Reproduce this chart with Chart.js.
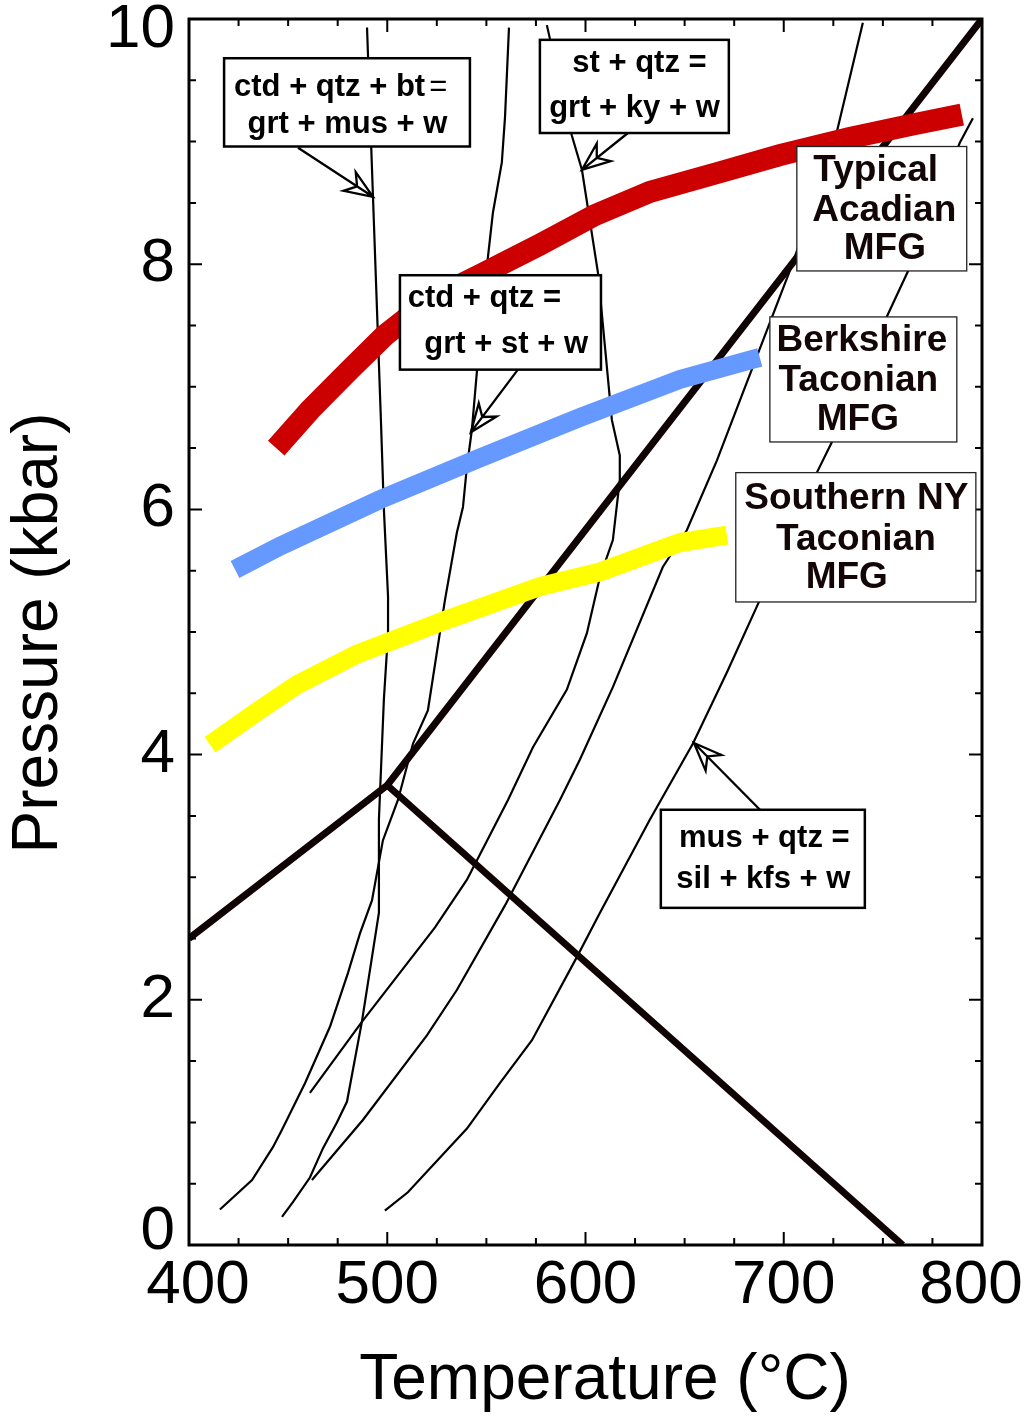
<!DOCTYPE html>
<html lang="en">
<head>
<meta charset="utf-8">
<title>Pressure–temperature diagram</title>
<script src="https://cdn.jsdelivr.net/npm/chart.js@4.4.1/dist/chart.umd.min.js"></script>
<style>
  html, body { margin: 0; padding: 0; background: #fff; }
  #frame { width: 1034px; height: 1418px; position: relative; }
</style>
</head>
<body>
<div id="frame"><canvas id="pt"></canvas></div>
<script>
// ---- axis ticks ----
const temperatureTicks = [400, 500, 600, 700, 800];   // °C
const pressureTicks = [0, 2, 4, 6, 8, 10];            // kbar

// ---- curves, each point is [T (°C), P (kbar)] ----
// Al2SiO5: And–Ky up to the triple point, then Ky–Sil
const kyaniteEdge = [[400, 2.5], [500, 3.75], [800, 10]];
// And–Sil from the triple point
const andSil = [[500, 3.75], [760, 0]];

// ctd + qtz + bt = grt + mus + w
const ctdQtzBt = [
  [489.8, 9.93], [492.8, 8.55], [496.8, 6.73], [498.3, 6.0], [500.4, 5.29], [500.4, 4.99],
  [498.3, 4.45], [495.8, 3.47], [495.8, 2.71], [487.2, 1.82], [479.7, 1.17], [474.6, 1.0],
  [467.6, 0.79], [461.0, 0.55], [452.4, 0.35], [446.9, 0.23]
];
// ctd + qtz = grt + st + w
const ctdQtz = [
  [415.6, 0.29], [431.8, 0.53], [442.4, 0.8], [446.9, 0.94], [458.5, 1.32], [471.1, 1.78],
  [480.2, 2.22], [486.2, 2.54], [492.3, 2.81], [497.8, 3.3], [505.4, 3.63], [513.0, 4.09],
  [520.5, 4.36], [529.1, 5.26], [535.1, 5.81], [538.2, 6.02], [540.2, 6.35], [542.7, 6.65],
  [545.2, 7.12], [550.8, 8.06], [553.3, 8.42], [557.8, 8.83], [559.4, 9.2], [561.4, 9.93]
];
// st + qtz = grt + ky + w (bends back into the sillimanite field)
const stQtz = [
  [580.5, 9.95], [593.1, 9.05], [598.2, 8.77], [606.3, 7.93], [613.3, 6.73], [617.3, 6.44],
  [617.3, 6.24], [613.8, 5.75], [607.3, 5.45], [600.7, 4.99], [590.6, 4.53], [573.5, 4.06],
  [560.9, 3.63], [540.2, 2.98], [524.1, 2.59], [487.2, 1.82], [461.0, 1.24]
];
// unlabelled reaction curve between st + qtz and mus + qtz
const midCurve = [
  [462.0, 0.53], [487.7, 1.02], [520.0, 1.71], [535.1, 2.08], [559.4, 2.77], [587.1, 3.63],
  [597.2, 3.96], [613.8, 4.55], [639.0, 5.53], [651.1, 5.83], [666.3, 6.4], [677.9, 6.89],
  [704.6, 8.01], [726.8, 9.08], [739.9, 9.97]
];
// mus + qtz = sil + kfs + w
const musQtz = [
  [498.8, 0.28], [510.4, 0.43], [540.2, 0.95], [556.8, 1.32], [573.0, 1.67], [595.7, 2.35],
  [607.3, 2.71], [632.5, 3.47], [654.2, 4.09], [671.3, 4.67], [687.9, 5.26], [716.7, 6.3],
  [724.3, 6.55], [752.5, 7.59], [762.6, 7.94], [788.8, 8.99], [795.4, 9.19]
];

// ---- metamorphic field gradients ----
const acadian = [
  [444, 6.5], [461, 6.81], [481.2, 7.14], [498.8, 7.42], [521.5, 7.71], [546.7, 7.91],
  [577, 8.16], [604.7, 8.4], [632.5, 8.59], [667.8, 8.75], [698, 8.89], [733.3, 9.03],
  [765.1, 9.14], [789.8, 9.22]
];
const berkshire = [
  [423.2, 5.51], [445.9, 5.7], [496.3, 6.08], [546.7, 6.42], [597.2, 6.75], [647.6, 7.06],
  [687.9, 7.24]
];
const southernNY = [
  [410.6, 4.08], [434.3, 4.35], [454.5, 4.57], [484.7, 4.82], [530.1, 5.1], [577, 5.37],
  [607.3, 5.49], [647.6, 5.73], [671.3, 5.79]
];

// ---- annotation layout (data units: box = [T left, P top, T right, P bottom]) ----
const reactionNotes = [
  { box: [417.7, 9.68, 541.7, 8.96], arrow: [455.0, 8.95, 492.8, 8.55],
    lines: [{ at: [476.5, 9.46], text: 'ctd + qtz + bt', tail: '=' },
            { at: [479.9, 9.16], text: 'grt + mus + w' }] },
  { box: [577.0, 9.83, 672.3, 9.07], arrow: [621.4, 9.07, 598.2, 8.77],
    lines: [{ at: [627.2, 9.66], text: 'st + qtz =' },
            { at: [624.7, 9.29], text: 'grt + ky + w' }] },
  { box: [506.4, 7.91, 607.8, 7.14], arrow: [565.9, 7.14, 542.2, 6.63],
    lines: [{ at: [549.0, 7.74], text: 'ctd + qtz =' },
            { at: [560.0, 7.37], text: 'grt + st + w' }] },
  { box: [638.0, 3.55, 740.9, 2.75], arrow: [688.0, 3.55, 654.7, 4.095],
    lines: [{ at: [690.2, 3.34], text: 'mus + qtz =' },
            { at: [689.7, 3.0], text: 'sil + kfs + w' }] }
];
const gradientNotes = [
  { box: [706.6, 8.96, 792.3, 7.945],
    lines: [{ at: [746.4, 8.79], text: 'Typical' }, { at: [750.7, 8.46], text: 'Acadian' }, { at: [751.0, 8.15], text: 'MFG' }] },
  { box: [693.0, 7.57, 787.3, 6.55],
    lines: [{ at: [739.4, 7.4], text: 'Berkshire' }, { at: [737.6, 7.07], text: 'Taconian' }, { at: [737.4, 6.755], text: 'MFG' }] },
  { box: [675.8, 6.3, 796.9, 5.245],
    lines: [{ at: [736.6, 6.11], text: 'Southern NY' }, { at: [736.4, 5.78], text: 'Taconian' }, { at: [731.8, 5.47], text: 'MFG' }] }
];

const FONT = '"Liberation Sans", Arial, Helvetica, sans-serif';
const toXY = pts => pts.map(([x, y]) => ({ x, y }));

function curve(label, pts, color, width, order) {
  return {
    label, data: toXY(pts), showLine: true, borderColor: color, backgroundColor: color,
    borderWidth: width, pointRadius: 0, pointHoverRadius: 0, tension: 0,
    borderCapStyle: 'butt', borderJoinStyle: 'miter', order, fill: false
  };
}

// pixel nudges that keep the end tick labels inside the frame
const labelNudge = { x: { '400': 9, '800': -11 }, y: { '10': 11, '0': -13 } };

function drawArrow(ctx, x1, y1, x2, y2) {
  const a = Math.atan2(y2 - y1, x2 - x1);
  const len = 30, spread = 0.38, notch = 19;
  const bx1 = x2 - len * Math.cos(a - spread), by1 = y2 - len * Math.sin(a - spread);
  const bx2 = x2 - len * Math.cos(a + spread), by2 = y2 - len * Math.sin(a + spread);
  const nx = x2 - notch * Math.cos(a), ny = y2 - notch * Math.sin(a);
  ctx.beginPath();
  ctx.moveTo(x1, y1); ctx.lineTo(x2, y2);
  ctx.moveTo(x2, y2); ctx.lineTo(bx1, by1); ctx.lineTo(nx, ny); ctx.lineTo(bx2, by2); ctx.closePath();
  ctx.stroke();
}

function drawNote(ctx, sx, sy, note, style) {
  const [t1, p1, t2, p2] = note.box;
  const L = sx.getPixelForValue(t1), R = sx.getPixelForValue(t2);
  const T = sy.getPixelForValue(p1), B = sy.getPixelForValue(p2);
  if (note.arrow) {
    ctx.lineWidth = 2.3; ctx.strokeStyle = '#000'; ctx.lineJoin = 'miter';
    const [a1, b1, a2, b2] = note.arrow;
    drawArrow(ctx, sx.getPixelForValue(a1), sy.getPixelForValue(b1), sx.getPixelForValue(a2), sy.getPixelForValue(b2));
  }
  ctx.fillStyle = '#fff';
  ctx.fillRect(L, T, R - L, B - T);
  ctx.lineWidth = style.border; ctx.strokeStyle = style.borderColor;
  ctx.strokeRect(L, T, R - L, B - T);
  ctx.fillStyle = style.color;
  ctx.textBaseline = 'alphabetic';
  for (const ln of note.lines) {
    const cx = sx.getPixelForValue(ln.at[0]);
    const cy = sy.getPixelForValue(ln.at[1]) + 0.358 * style.size;
    ctx.font = `bold ${style.size}px ${FONT}`;
    const w1 = ctx.measureText(ln.text).width;
    let w2 = 0, gap = 0;
    if (ln.tail) {
      ctx.font = `normal ${style.size}px ${FONT}`;
      w2 = ctx.measureText(ln.tail).width; gap = 4;
    }
    const start = cx - (w1 + gap + w2) / 2;
    ctx.textAlign = 'left';
    ctx.font = `bold ${style.size}px ${FONT}`;
    ctx.fillText(ln.text, start, cy);
    if (ln.tail) {
      ctx.font = `normal ${style.size}px ${FONT}`;
      ctx.fillText(ln.tail, start + w1 + gap, cy);
    }
  }
}

const diagramDecor = {
  id: 'diagramDecor',
  beforeDraw(chart) {
    for (const id of ['x', 'y']) {
      const scale = chart.scales[id];
      if (!scale || typeof scale.getLabelItems !== 'function') continue;
      for (const item of scale.getLabelItems()) {
        if (item._nudged) continue;
        const d = labelNudge[id][String(item.label)];
        if (d && item.options && item.options.translation) {
          item.options.translation[id === 'x' ? 0 : 1] += d;
        }
        item._nudged = true;
      }
    }
  },
  afterDatasetsDraw(chart) {
    const { ctx, chartArea: a, scales: { x: sx, y: sy } } = chart;
    ctx.save();
    // inward tick marks on all four sides
    ctx.strokeStyle = '#000'; ctx.lineWidth = 2; ctx.beginPath();
    for (let t = 400; t <= 800; t += 25) {
      const px = sx.getPixelForValue(t), len = t % 100 === 0 ? 13 : 7;
      ctx.moveTo(px, a.bottom); ctx.lineTo(px, a.bottom - len);
      ctx.moveTo(px, a.top); ctx.lineTo(px, a.top + len);
    }
    for (let p = 0; p <= 10; p += 0.5) {
      const py = sy.getPixelForValue(p), len = p % 2 === 0 ? 13 : 7;
      ctx.moveTo(a.left, py); ctx.lineTo(a.left + len, py);
      ctx.moveTo(a.right, py); ctx.lineTo(a.right - len, py);
    }
    ctx.stroke();
    // frame
    ctx.lineWidth = 3;
    ctx.strokeRect(a.left, a.top, a.right - a.left, a.bottom - a.top);

    // reaction and gradient labels
    for (const n of reactionNotes) drawNote(ctx, sx, sy, n, { size: 31, border: 2.5, borderColor: '#000', color: '#000' });
    for (const n of gradientNotes) drawNote(ctx, sx, sy, n, { size: 37, border: 1.3, borderColor: '#222', color: '#120606' });

    // axis titles
    ctx.fillStyle = '#000';
    ctx.font = `64px ${FONT}`;
    ctx.textAlign = 'center'; ctx.textBaseline = 'middle';
    ctx.fillText('Temperature (°C)', 605, 1381);
    ctx.translate(39, (a.top + a.bottom) / 2 + 1);
    ctx.rotate(-Math.PI / 2);
    ctx.fillText('Pressure (kbar)', 0, 0);
    ctx.restore();
  }
};

new Chart(document.getElementById('pt'), {
  type: 'scatter',
  data: {
    datasets: [
      curve('Typical Acadian MFG', acadian, '#cc0000', 22, 0),
      curve('Berkshire Taconian MFG', berkshire, '#6699ff', 19, 0),
      curve('Southern NY Taconian MFG', southernNY, '#ffff00', 19, 0),
      curve('Ky boundary', kyaniteEdge, '#100303', 7, 1),
      curve('And = Sil', andSil, '#100303', 7, 1),
      curve('ctd + qtz + bt = grt + mus + w', ctdQtzBt, '#000', 2.2, 2),
      curve('ctd + qtz = grt + st + w', ctdQtz, '#000', 2.2, 2),
      curve('st + qtz = grt + ky + w', stQtz, '#000', 2.2, 2),
      curve('reaction', midCurve, '#000', 2.2, 2),
      curve('mus + qtz = sil + kfs + w', musQtz, '#000', 2.2, 2)
    ]
  },
  options: {
    responsive: true,
    maintainAspectRatio: false,
    animation: false,
    events: [],
    layout: { padding: { left: 0, right: 52, top: 19, bottom: 0 } },
    plugins: { legend: { display: false }, tooltip: { enabled: false }, title: { display: false } },
    scales: {
      x: {
        type: 'linear', min: 400, max: 800,
        afterFit: s => { s.height = 173; s.paddingLeft = 0; s.paddingRight = 0; s.paddingTop = 0; s.paddingBottom = 0; },
        afterBuildTicks: s => { s.ticks = temperatureTicks.map(v => ({ value: v })); },
        grid: { display: false, drawTicks: false },
        border: { display: false },
        ticks: { padding: 10, color: '#000', font: { family: FONT, size: 62, lineHeight: 1 }, maxRotation: 0, autoSkip: false },
        title: { display: false }
      },
      y: {
        type: 'linear', min: 0, max: 10,
        afterFit: s => { s.width = 189; s.paddingLeft = 0; s.paddingRight = 0; s.paddingTop = 0; s.paddingBottom = 0; },
        afterBuildTicks: s => { s.ticks = pressureTicks.map(v => ({ value: v })); },
        grid: { display: false, drawTicks: false },
        border: { display: false },
        ticks: { padding: 14, color: '#000', font: { family: FONT, size: 62, lineHeight: 1 }, autoSkip: false },
        title: { display: false }
      }
    }
  },
  plugins: [diagramDecor]
});
</script>
</body>
</html>
